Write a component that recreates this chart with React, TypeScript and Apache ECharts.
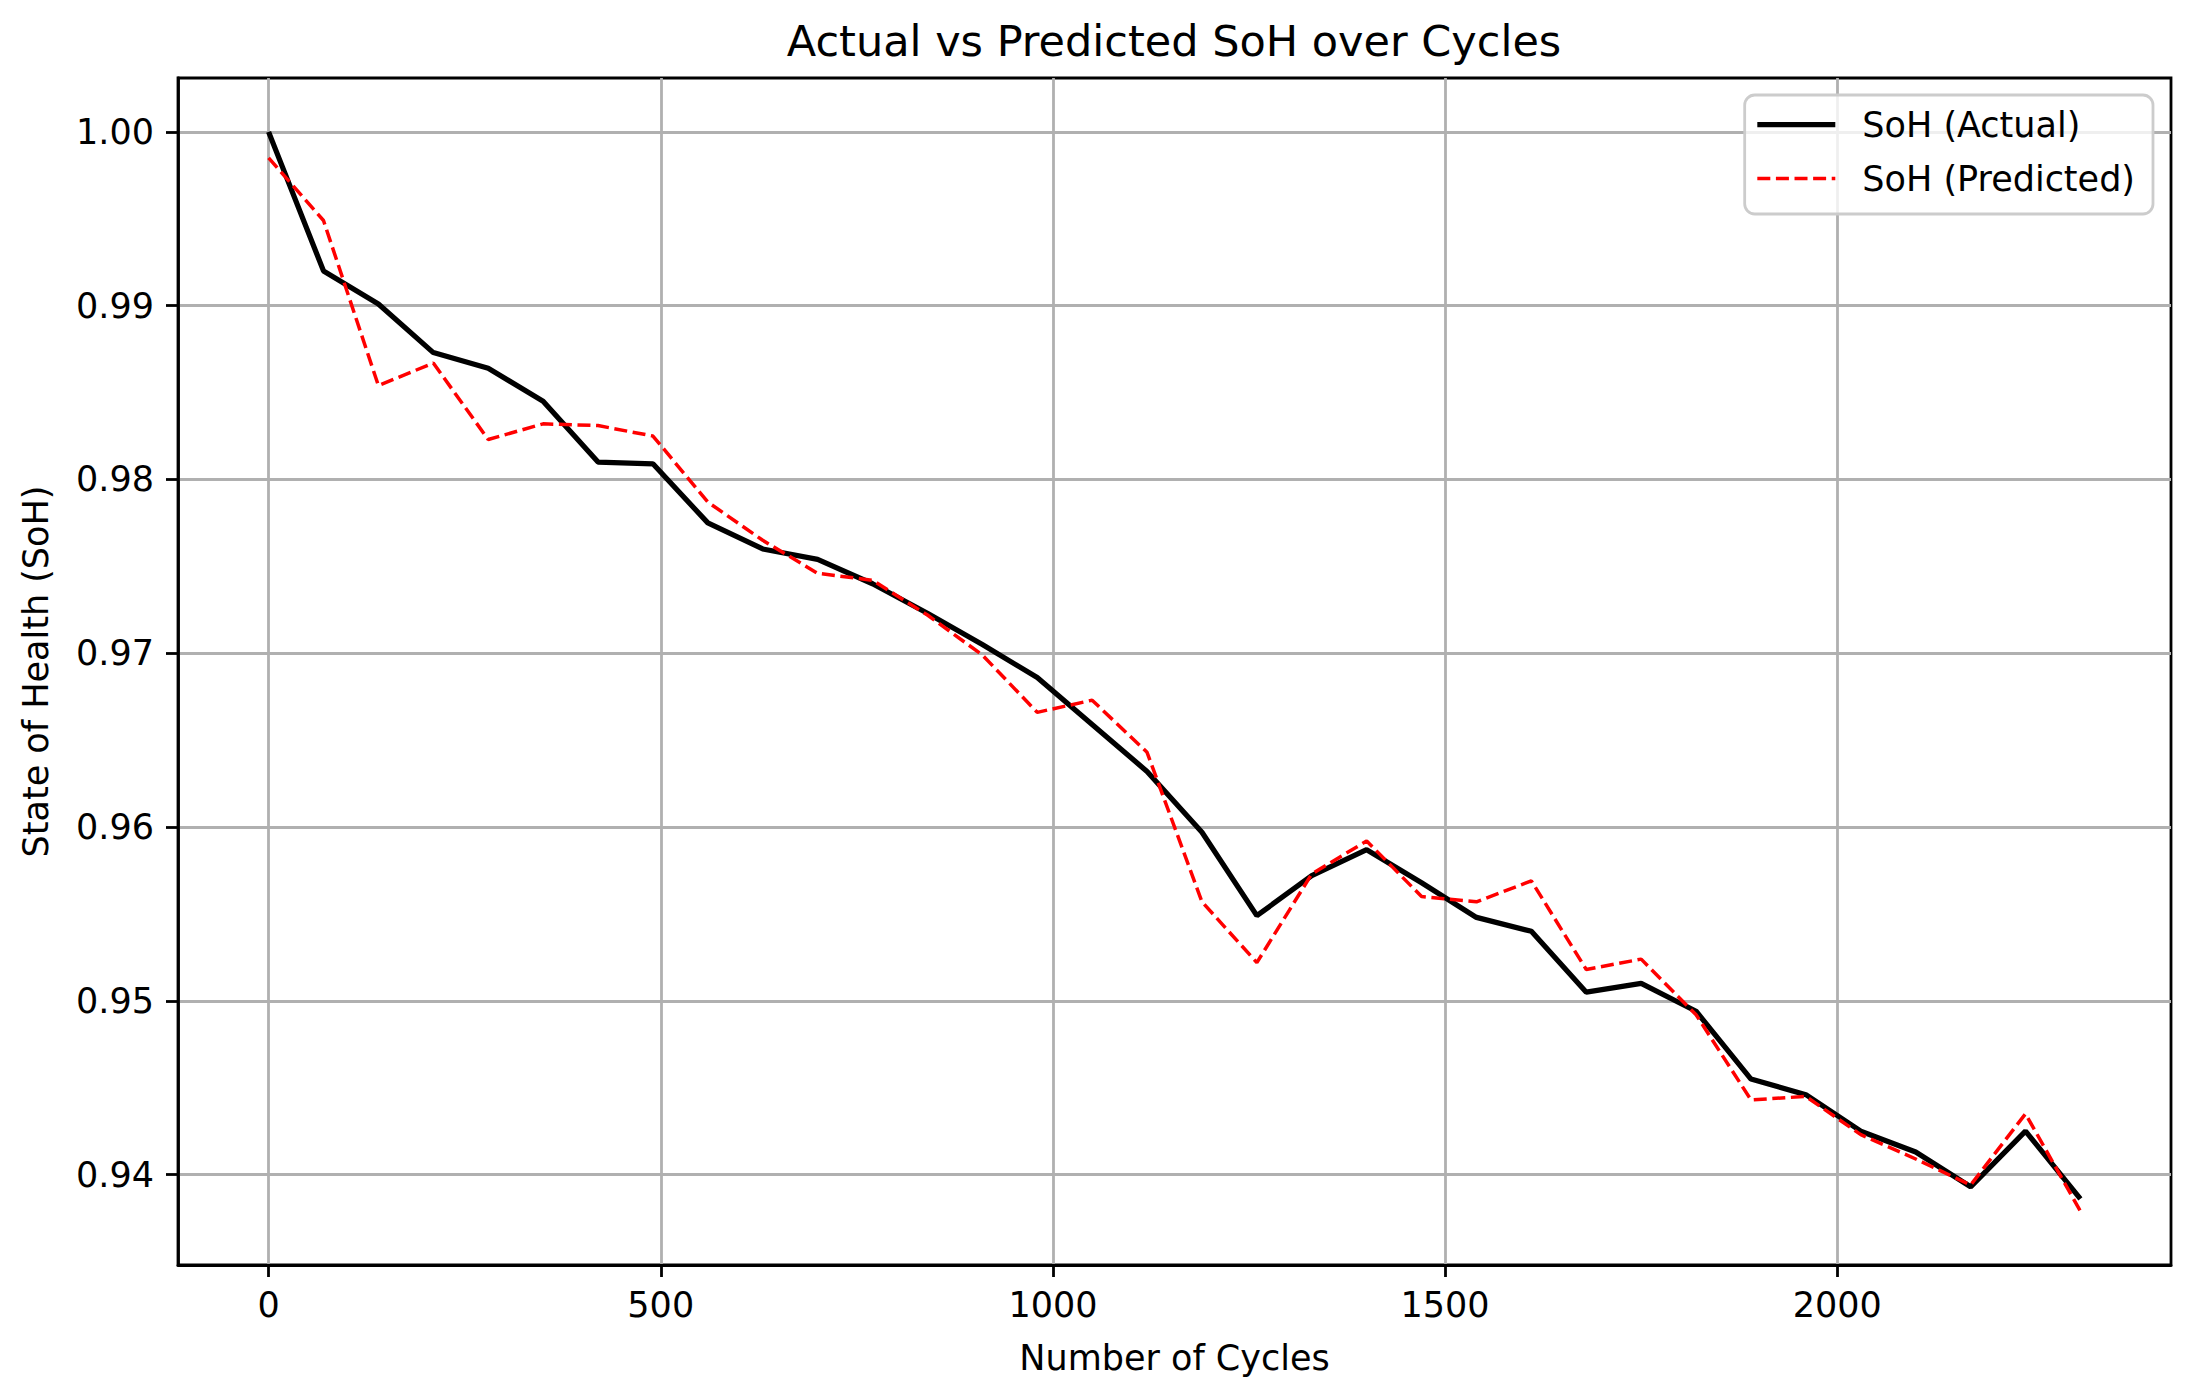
import React, { useEffect, useRef } from "react";
import * as echarts from "echarts";

const cycles = [
  0, 70, 140, 210, 280, 350, 420, 490, 560, 630, 700, 770, 840, 910, 980, 1050,
  1120, 1190, 1260, 1330, 1400, 1470, 1540, 1610, 1680, 1750, 1820, 1890, 1960,
  2030, 2100, 2170, 2240, 2310,
];

const sohActual = [
  1.0, 0.992, 0.9901, 0.9873, 0.9864, 0.9845, 0.981, 0.9809, 0.9775, 0.976,
  0.9754, 0.974, 0.9723, 0.9705, 0.9686, 0.9659, 0.9632, 0.9597, 0.9549, 0.9572,
  0.9587, 0.9568, 0.9548, 0.954, 0.9505, 0.951, 0.9494, 0.9455, 0.9446, 0.9425,
  0.9413, 0.9393, 0.9425, 0.9386,
];

const sohPredicted = [
  0.9985, 0.9949, 0.9854, 0.9867, 0.9823, 0.9832, 0.9831, 0.9825, 0.9787, 0.9765,
  0.9746, 0.9742, 0.9722, 0.9699, 0.9666, 0.9673, 0.9643, 0.9557, 0.9522, 0.9573,
  0.9592, 0.956, 0.9557, 0.9569, 0.9518, 0.9524, 0.9492, 0.9443, 0.9445, 0.9423,
  0.9409, 0.9394, 0.9435, 0.9379,
];

const xTicks = [0, 500, 1000, 1500, 2000];
const yTicks = [0.94, 0.95, 0.96, 0.97, 0.98, 0.99, 1.0];

const FONT = "DejaVu Sans";

export default function App() {
  const ref = useRef<HTMLDivElement>(null);

  useEffect(() => {
    document.body.style.margin = "0";
    const chart = echarts.init(ref.current!, null, { renderer: "svg" });
    chart.setOption({
      animation: false,
      backgroundColor: "#ffffff",
      textStyle: { fontFamily: FONT },
      title: {
        text: "Actual vs Predicted SoH over Cycles",
        left: 1169,
        top: 14,
        textAlign: "center",
        textStyle: { fontSize: 43, fontWeight: "normal", color: "#000", fontFamily: FONT },
      },
      grid: {
        left: 178,
        right: 24,
        top: 78,
        bottom: 133,
        show: true,
        borderColor: "#000",
        borderWidth: 2.8,
        backgroundColor: "transparent",
      },
      legend: {
        orient: "vertical",
        right: 42,
        top: 95,
        itemWidth: 78,
        itemHeight: 36,
        itemGap: 19,
        padding: [12, 18, 18, 10],
        backgroundColor: "rgba(255,255,255,0.8)",
        borderColor: "#cccccc",
        borderWidth: 2.8,
        borderRadius: 10,
        selectedMode: false,
        itemStyle: { opacity: 0, borderWidth: 0 },
        textStyle: { fontSize: 35, color: "#000", fontFamily: FONT, padding: [0, 0, 0, 22] },
        data: [
          {
            name: "SoH (Actual)",
            itemStyle: { opacity: 0, borderWidth: 0 },
            lineStyle: { color: "#000", width: 5.25, type: "solid", opacity: 1 },
          },
          {
            name: "SoH (Predicted)",
            itemStyle: { opacity: 0, borderWidth: 0 },
            lineStyle: { color: "#ff0000", width: 3.5, type: [13, 5.6], opacity: 1 },
          },
        ],
      },
      xAxis: {
        type: "value",
        min: -115.5,
        max: 2425.5,
        name: "Number of Cycles",
        nameLocation: "middle",
        nameGap: 75,
        nameTextStyle: { fontSize: 35, color: "#000", fontFamily: FONT },
        axisLine: { show: true, onZero: false, lineStyle: { color: "#000", width: 2.8 } },
        axisTick: { show: true, customValues: xTicks, length: 12, lineStyle: { color: "#000", width: 2.8 } },
        axisLabel: {
          customValues: xTicks,
          fontSize: 35,
          color: "#000",
          margin: 22,
          fontFamily: FONT,
          formatter: (v: number) => String(Math.round(v)),
        },
        splitLine: { show: true, lineStyle: { color: "#b0b0b0", width: 2.8 } },
      },
      yAxis: {
        type: "value",
        min: 0.9348,
        max: 1.0031,
        name: "State of Health (SoH)",
        nameLocation: "middle",
        nameGap: 125,
        nameTextStyle: { fontSize: 35, color: "#000", fontFamily: FONT },
        axisLine: { show: true, onZero: false, lineStyle: { color: "#000", width: 2.8 } },
        axisTick: { show: true, customValues: yTicks, length: 12, lineStyle: { color: "#000", width: 2.8 } },
        axisLabel: {
          customValues: yTicks,
          fontSize: 35,
          color: "#000",
          margin: 24,
          fontFamily: FONT,
          formatter: (v: number) => v.toFixed(2),
        },
        splitLine: { show: true, lineStyle: { color: "#b0b0b0", width: 2.8 } },
      },
      series: [
        {
          name: "SoH (Actual)",
          type: "line",
          data: cycles.map((c, i) => [c, sohActual[i]]),
          symbol: "none",
          showSymbol: false,
          itemStyle: { color: "#000" },
          lineStyle: { color: "#000", width: 5.25 },
          z: 3,
        },
        {
          name: "SoH (Predicted)",
          type: "line",
          data: cycles.map((c, i) => [c, sohPredicted[i]]),
          symbol: "none",
          showSymbol: false,
          itemStyle: { color: "#ff0000" },
          lineStyle: { color: "#ff0000", width: 3.5, type: [13, 5.6] },
          z: 4,
        },
      ],
    });
    return () => chart.dispose();
  }, []);

  return <div ref={ref} style={{ width: 2195, height: 1398 }} />;
}
